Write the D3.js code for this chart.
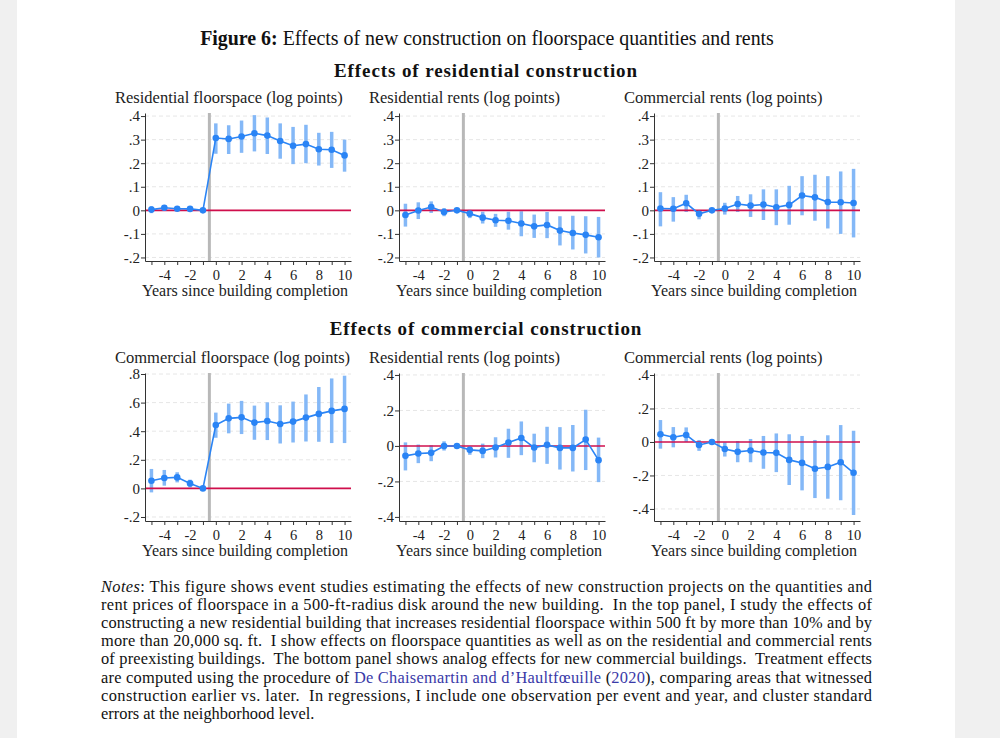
<!DOCTYPE html>
<html>
<head>
<meta charset="utf-8">
<script src="https://cdn.jsdelivr.net/npm/d3@7/dist/d3.min.js"></script>
<style>
  body { margin: 0; background: #f0f0f0; }
  svg { display: block; }
</style>
</head>
<body>
<svg id="fig" width="1000" height="738"></svg>
<script>
// --- Data ---
const years = [-5, -4, -3, -2, -1, 0, 1, 2, 3, 4, 5, 6, 7, 8, 9, 10];

// residential construction -> residential floorspace
const resFloorEst = [0.003, 0.011, 0.007, 0.006, 0, 0.307, 0.303, 0.313, 0.327, 0.317, 0.294, 0.274, 0.281, 0.259, 0.257, 0.233];
const resFloorLo  = [-0.012, 0.006, 0.003, 0.002, 0, 0.240, 0.239, 0.244, 0.250, 0.239, 0.219, 0.196, 0.200, 0.190, 0.180, 0.164];
const resFloorHi  = [0.018, 0.016, 0.011, 0.010, 0, 0.369, 0.361, 0.381, 0.404, 0.394, 0.369, 0.354, 0.363, 0.329, 0.333, 0.300];

// residential construction -> residential rents
const resResEst = [-0.020, -0.001, 0.014, -0.007, 0, -0.014, -0.031, -0.042, -0.044, -0.056, -0.068, -0.062, -0.086, -0.096, -0.104, -0.114];
const resResLo  = [-0.069, -0.037, -0.011, -0.025, 0, -0.033, -0.056, -0.070, -0.082, -0.110, -0.117, -0.118, -0.149, -0.166, -0.183, -0.200];
const resResHi  = [0.028, 0.034, 0.038, 0.010, 0, 0.002, -0.006, -0.015, -0.006, -0.004, -0.018, -0.007, -0.025, -0.023, -0.025, -0.028];

// residential construction -> commercial rents
const resComEst = [0.008, 0.007, 0.030, -0.015, 0, 0.008, 0.027, 0.020, 0.025, 0.013, 0.023, 0.063, 0.055, 0.035, 0.034, 0.031];
const resComLo  = [-0.068, -0.048, -0.007, -0.038, 0, -0.018, -0.007, -0.028, -0.041, -0.063, -0.061, -0.021, -0.044, -0.077, -0.100, -0.115];
const resComHi  = [0.077, 0.056, 0.066, -0.001, 0, 0.032, 0.061, 0.068, 0.089, 0.089, 0.104, 0.145, 0.151, 0.145, 0.165, 0.176];

// commercial construction -> commercial floorspace
const comFloorEst = [0.054, 0.073, 0.077, 0.035, 0, 0.443, 0.490, 0.497, 0.460, 0.471, 0.450, 0.467, 0.495, 0.521, 0.542, 0.556];
const comFloorLo  = [-0.028, 0.019, 0.042, 0.007, 0, 0.354, 0.385, 0.380, 0.340, 0.338, 0.314, 0.321, 0.328, 0.326, 0.317, 0.317];
const comFloorHi  = [0.136, 0.129, 0.113, 0.061, 0, 0.530, 0.593, 0.612, 0.579, 0.602, 0.581, 0.607, 0.657, 0.709, 0.769, 0.788];

// commercial construction -> residential rents
const comResEst = [-0.056, -0.043, -0.039, 0.000, 0, -0.022, -0.028, -0.009, 0.019, 0.045, -0.009, 0.006, -0.011, -0.011, 0.036, -0.080];
const comResLo  = [-0.138, -0.097, -0.086, -0.026, 0, -0.050, -0.069, -0.065, -0.067, -0.052, -0.092, -0.101, -0.133, -0.144, -0.136, -0.204];
const comResHi  = [0.020, 0.008, 0.004, 0.026, 0, -0.002, 0.013, 0.049, 0.097, 0.138, 0.069, 0.108, 0.106, 0.118, 0.204, 0.047];

// commercial construction -> commercial rents
const comComEst = [0.046, 0.028, 0.042, -0.018, 0, -0.042, -0.059, -0.051, -0.063, -0.065, -0.107, -0.125, -0.160, -0.149, -0.121, -0.184];
const comComLo  = [-0.040, -0.032, 0.000, -0.053, 0, -0.087, -0.121, -0.121, -0.160, -0.180, -0.257, -0.289, -0.335, -0.339, -0.348, -0.436];
const comComHi  = [0.131, 0.089, 0.087, 0.012, 0, -0.002, 0.006, 0.018, 0.036, 0.051, 0.046, 0.036, 0.012, 0.040, 0.101, 0.067];

const ticksTop = [-0.2, -0.1, 0, 0.1, 0.2, 0.3, 0.4];
const ticksComFloor = [-0.2, 0, 0.2, 0.4, 0.6, 0.8];
const ticksRents = [-0.4, -0.2, 0, 0.2, 0.4];

// --- Layout / style ---
const serif = "'Liberation Serif', 'Times New Roman', serif";
const lineBlue = "#2a84f5";
const ciBlue = "#84b8f7";
const zeroRed = "#cf0f4c";
const plotW = 206;
const plotH = 148;

const panels = [
  { title: "Residential floorspace (log points)", est: resFloorEst, lo: resFloorLo, hi: resFloorHi, ticks: ticksTop, dom: [-0.215, 0.413], left: 145, top: 113 },
  { title: "Residential rents (log points)", est: resResEst, lo: resResLo, hi: resResHi, ticks: ticksTop, dom: [-0.215, 0.413], left: 399, top: 113 },
  { title: "Commercial rents (log points)", est: resComEst, lo: resComLo, hi: resComHi, ticks: ticksTop, dom: [-0.215, 0.413], left: 654, top: 113 },
  { title: "Commercial floorspace (log points)", est: comFloorEst, lo: comFloorLo, hi: comFloorHi, ticks: ticksComFloor, dom: [-0.228, 0.807], left: 145, top: 373 },
  { title: "Residential rents (log points)", est: comResEst, lo: comResLo, hi: comResHi, ticks: ticksRents, dom: [-0.423, 0.411], left: 399, top: 373 },
  { title: "Commercial rents (log points)", est: comComEst, lo: comComLo, hi: comComHi, ticks: ticksRents, dom: [-0.472, 0.412], left: 654, top: 373 }
];

const svg = d3.select("#fig");

// page
svg.append("rect").attr("x", 17).attr("y", 0).attr("width", 938).attr("height", 738).attr("fill", "#fff");

// --- Titles ---
const figTitle = svg.append("text")
  .attr("x", 487).attr("y", 45)
  .attr("text-anchor", "middle")
  .style("font-family", serif).style("font-size", "19.9px").attr("fill", "#111");
figTitle.append("tspan").style("font-weight", "bold").text("Figure 6:");
figTitle.append("tspan").text(" Effects of new construction on floorspace quantities and rents");

function sectionTitle(y, txt) {
  svg.append("text")
    .attr("x", 486).attr("y", y)
    .attr("text-anchor", "middle")
    .style("font-family", serif).style("font-size", "19px").style("font-weight", "bold")
    .style("letter-spacing", "0.9px")
    .attr("fill", "#111")
    .text(txt);
}
sectionTitle(77, "Effects of residential construction");
sectionTitle(335, "Effects of commercial construction");

const yFmt = d => d === 0 ? "0" : d3.format(".1f")(d).replace("0.", ".").replace("\u2212", "-");

function drawPanel(p) {
  const x = d3.scaleLinear().domain([-5.5, 10.5]).range([p.left, p.left + plotW]);
  const y = d3.scaleLinear().domain(p.dom).range([p.top + plotH, p.top]);
  const g = svg.append("g");

  // panel title
  g.append("text")
    .attr("x", p.left - 30).attr("y", p.top - 10)
    .style("font-family", serif).style("font-size", "16.5px").attr("fill", "#222")
    .text(p.title);

  // grid lines
  g.selectAll(".grid").data(p.ticks.filter(t => t !== 0)).enter()
    .append("line")
    .attr("x1", p.left).attr("x2", p.left + plotW)
    .attr("y1", d => y(d)).attr("y2", d => y(d))
    .attr("stroke", "#e6e6e6").attr("stroke-width", 1).attr("stroke-dasharray", "4,3");

  // event line between -1 and 0
  g.append("line")
    .attr("x1", x(-0.5)).attr("x2", x(-0.5))
    .attr("y1", p.top).attr("y2", p.top + plotH)
    .attr("stroke", "#b8b8b8").attr("stroke-width", 3);

  // confidence intervals
  g.selectAll(".ci").data(years).enter()
    .append("line")
    .attr("x1", d => x(d)).attr("x2", d => x(d))
    .attr("y1", (d, i) => y(p.lo[i])).attr("y2", (d, i) => y(p.hi[i]))
    .attr("stroke", ciBlue).attr("stroke-width", 3.5);

  // zero line
  g.append("line")
    .attr("x1", p.left).attr("x2", p.left + plotW)
    .attr("y1", y(0)).attr("y2", y(0))
    .attr("stroke", zeroRed).attr("stroke-width", 1.6);

  // estimates
  const line = d3.line().x((d, i) => x(years[i])).y(d => y(d));
  g.append("path").datum(p.est)
    .attr("d", line).attr("fill", "none")
    .attr("stroke", lineBlue).attr("stroke-width", 1.6);
  g.selectAll(".pt").data(p.est).enter()
    .append("circle")
    .attr("cx", (d, i) => x(years[i])).attr("cy", d => y(d))
    .attr("r", 3.3).attr("fill", lineBlue);

  // axes
  const yAxis = g.append("g")
    .attr("transform", `translate(${p.left},0)`)
    .call(d3.axisLeft(y).tickValues(p.ticks).tickFormat(yFmt).tickSize(4).tickPadding(1).tickSizeOuter(0));
  const xAxis = g.append("g")
    .attr("transform", `translate(0,${p.top + plotH})`)
    .call(d3.axisBottom(x).tickValues(years).tickFormat(d => d % 2 === 0 ? String(d) : "").tickSize(4).tickPadding(5).tickSizeOuter(0));
  [yAxis, xAxis].forEach(a => {
    a.select(".domain").attr("stroke", "#333");
    a.selectAll(".tick line").attr("stroke", "#333");
    a.selectAll("text").style("font-family", serif).style("font-size", "15px").attr("fill", "#222");
  });
  xAxis.selectAll("text").style("font-size", "14.5px");

  // x title
  g.append("text")
    .attr("x", p.left + 100).attr("y", p.top + plotH + 35)
    .attr("text-anchor", "middle")
    .style("font-family", serif).style("font-size", "16px").attr("fill", "#222")
    .text("Years since building completion");
}

panels.forEach(drawPanel);

// --- Notes ---
const noteLines = [
  [{ t: "Notes", it: true }, { t: ": This figure shows event studies estimating the effects of new construction projects on the quantities and" }],
  [{ t: "rent prices of floorspace in a 500-ft-radius disk around the new building.  In the top panel, I study the effects of" }],
  [{ t: "constructing a new residential building that increases residential floorspace within 500 ft by more than 10% and by" }],
  [{ t: "more than 20,000 sq. ft.  I show effects on floorspace quantities as well as on the residential and commercial rents" }],
  [{ t: "of preexisting buildings.  The bottom panel shows analog effects for new commercial buildings.  Treatment effects" }],
  [{ t: "are computed using the procedure of " }, { t: "De Chaisemartin and d\u2019Haultf\u0153uille", link: true }, { t: " (" }, { t: "2020", link: true }, { t: "), comparing areas that witnessed" }],
  [{ t: "construction earlier vs. later.  In regressions, I include one observation per event and year, and cluster standard" }],
  [{ t: "errors at the neighborhood level." }]
];

noteLines.forEach((segs, i) => {
  const txt = svg.append("text")
    .attr("x", 101).attr("y", 592 + i * 18.1)
    .style("font-family", serif).style("font-size", "16.4px").attr("fill", "#111")
    .attr("xml:space", "preserve");
  if (i < noteLines.length - 1) {
    txt.attr("textLength", 771).attr("lengthAdjust", "spacing");
  }
  segs.forEach(s => {
    const ts = txt.append("tspan").text(s.t);
    if (s.it) ts.style("font-style", "italic");
    if (s.link) ts.attr("fill", "#3a3aa8");
  });
});
</script>
</body>
</html>
